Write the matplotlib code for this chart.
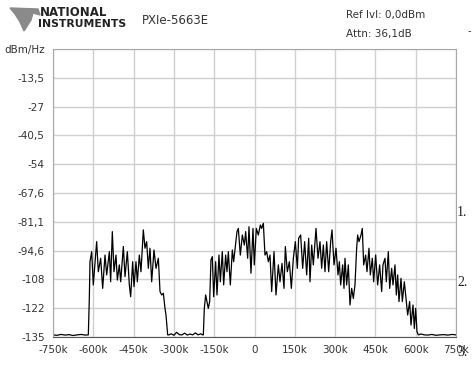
import matplotlib
matplotlib.use('Agg')

import numpy as np
import matplotlib.pyplot as plt
from matplotlib.patches import Polygon

# -------------------
# Spectrum trace (offset in kHz, level in dBm/Hz)
# -------------------
floor_left_f = [-750, -735, -720, -705, -690, -675, -660, -645, -630, -620]
floor_left_l = [-134.0, -134.2, -133.8, -134.1, -133.9, -134.3, -134.0, -133.8, -134.1, -134.0]

band1_f = [-618.5, -614.8, -612.3, -606.0, -600.0, -587.5, -581.3, -572.6, -565.1, -556.4,
           -550.2, -540.3, -535.4, -529.2, -523.0, -515.5, -510.5, -503.1, -498.1, -488.2,
           -482.0, -473.3, -465.9, -460.9, -453.5, -448.5, -441.1, -436.1, -428.7, -422.5,
           -413.8, -407.6, -401.4, -395.2, -389.0, -382.7, -374.1, -366.6, -357.9, -351.7,
           -345.5, -339.3, -333.1, -329.4, -323.2]
band1_l = [-134.0, -116.9, -99.7, -95.0, -110.6, -90.3, -104.4, -98.1, -112.2, -96.6,
           -105.9, -95.0, -109.1, -85.6, -104.4, -96.6, -108.3, -101.2, -109.1, -92.6,
           -106.7, -95.0, -110.6, -116.1, -99.7, -111.4, -99.7, -109.1, -96.6, -104.4,
           -84.8, -93.4, -90.3, -102.8, -93.4, -109.1, -94.2, -102.8, -98.1, -113.7,
           -115.3, -114.5, -121.6, -124.7, -134.0]

floor_mid_f = [-318, -310, -300, -290, -280, -270, -260, -250, -240, -230, -220, -210, -200, -193]
floor_mid_l = [-134.0, -133.5, -134.2, -132.8, -133.9, -134.0, -133.2, -134.1, -133.6, -134.0,
               -133.1, -134.0, -133.5, -134.0]

band2_f = [-190.5, -186.8, -181.8, -176.8, -171.9, -166.9, -162.0, -157.0, -152.0, -144.6,
           -139.6, -132.2, -127.2, -119.8, -114.8, -107.4, -102.4, -97.4, -90.0, -82.5,
           -77.6, -70.1, -65.2, -60.2, -52.8, -45.3, -37.9, -32.9, -25.5, -20.5,
           -13.1, -5.6, -0.7, 6.8, 14.2, 21.7, 26.6, 32.9, 39.0, 45.3,
           51.5, 57.7, 63.9, 72.6, 80.0, 88.7, 94.9, 102.4, 109.8, 114.8,
           122.2, 129.7, 137.1, 144.6, 152.0, 159.4, 164.4, 171.8, 179.3, 186.7,
           194.2, 201.6, 206.6, 212.8, 219.0, 228.9, 236.4, 243.8, 250.0, 256.2,
           262.4, 268.6, 276.1, 283.5, 288.5, 295.9, 303.4, 310.8, 315.8, 320.7,
           328.2, 333.1, 336.8, 343.0, 349.2, 355.4, 361.6, 367.8, 374.0, 380.2,
           384.0, 388.9, 396.4, 401.3, 406.3, 413.7, 418.7, 426.1, 431.1, 438.5,
           443.5, 451.0, 458.4, 465.8, 473.3, 478.2, 485.7, 490.6, 498.1, 503.1,
           510.5, 515.5, 522.9, 527.9, 532.8, 537.8, 545.3, 550.2, 557.7, 562.6,
           570.1, 577.5, 582.5, 589.9, 594.9, 599.8, 604.8, 609.8]
band2_l = [-134.0, -121.6, -115.3, -118.4, -121.6, -118.4, -98.9, -97.3, -116.1, -99.7,
           -115.3, -96.6, -109.1, -95.0, -110.6, -96.6, -104.4, -95.0, -110.6, -94.2,
           -99.7, -91.1, -85.6, -84.1, -96.6, -87.2, -91.9, -85.6, -98.1, -83.3,
           -105.1, -84.1, -101.2, -84.1, -87.2, -82.5, -84.1, -81.7, -96.6, -95.0,
           -99.7, -96.6, -113.7, -95.0, -115.3, -101.2, -109.1, -100.5, -112.2, -92.6,
           -104.4, -99.7, -112.2, -98.1, -90.3, -102.8, -88.7, -87.2, -102.8, -90.3,
           -105.9, -88.7, -109.1, -91.9, -101.2, -84.1, -98.1, -90.3, -102.8, -91.9,
           -104.4, -90.3, -104.4, -90.3, -84.8, -101.2, -93.4, -105.9, -99.7, -110.6,
           -101.2, -112.2, -98.1, -110.6, -101.2, -120.0, -112.2, -116.9, -110.6, -93.4,
           -87.2, -90.3, -87.2, -84.1, -101.2, -96.6, -104.4, -93.4, -105.9, -98.1,
           -109.1, -96.6, -110.6, -101.2, -113.7, -101.2, -98.1, -109.1, -95.0, -112.2,
           -102.8, -110.6, -101.2, -115.3, -105.9, -118.4, -107.5, -118.4, -109.1, -115.3,
           -124.7, -118.4, -129.4, -120.0, -131.0, -121.6, -132.5, -134.0]

floor_right_f = [620, 632, 645, 660, 675, 690, 705, 720, 735, 750]
floor_right_l = [-133.6, -134.0, -134.1, -133.8, -134.2, -134.0, -133.9, -134.1, -133.8, -134.0]

y_ticks = [0, -13.5, -27, -40.5, -54, -67.5, -81, -94.5, -108, -121.5, -135]
y_labels = ['dBm/Hz', '-13,5', '-27', '-40,5', '-54', '-67,6', '-81,1', '-94,6', '-108', '-122', '-135']
x_ticks = [-750, -600, -450, -300, -150, 0, 150, 300, 450, 600, 750]
x_labels = ['-750k', '-600k', '-450k', '-300k', '-150k', '0', '150k', '300k', '450k', '600k', '750k']

freq = np.concatenate([floor_left_f, band1_f, floor_mid_f, band2_f, floor_right_f])
level = np.concatenate([floor_left_l, band1_l, floor_mid_l, band2_l, floor_right_l])

# -------------------
# Figure laid out like the instrument screenshot
# -------------------
W, H = 476, 366
fig = plt.figure(figsize=(W / 100, H / 100), dpi=100)
ax = fig.add_axes([53 / W, 1 - 337 / H, (456 - 53) / W, (337 - 49) / H])

ax.plot(freq, level, '-', color='black', lw=0.9)

ax.set_xlim(-750, 750)
ax.set_ylim(-135, 0)
ax.set_xticks(x_ticks)
ax.set_xticklabels(x_labels)
ax.set_yticks(y_ticks)
ax.set_yticklabels(y_labels)
ax.tick_params(length=0, labelsize=7.5, colors='#333333', pad=6)
ax.grid(True, color='#cfcfcf', lw=1.0)
for s in ax.spines.values():
    s.set_color('#a8a8a8')
ax.spines['bottom'].set_color('#555555')

# header: logo + instrument info
logo = Polygon([(10, 8), (38, 9), (40, 15), (33, 13), (31, 20), (24, 31), (20, 22), (15, 14)],
               closed=True, color='#8a8a8a', transform=None)
logo.set_xy([(x, H - y) for x, y in logo.get_xy()])
fig.patches.append(logo)
fig.text(40 / W, 1 - 12 / H, 'NATIONAL', fontsize=8.5, fontweight='heavy', color='#222222', va='center')
fig.text(38 / W, 1 - 24 / H, 'INSTRUMENTS', fontsize=7.8, fontweight='heavy', color='#222222', va='center')
fig.text(142 / W, 1 - 21 / H, 'PXIe-5663E', fontsize=8.5, color='#333333', va='center')
fig.text(346 / W, 1 - 15 / H, 'Ref lvl: 0,0dBm', fontsize=7.5, color='#333333', va='center')
fig.text(346 / W, 1 - 34 / H, 'Attn: 36,1dB', fontsize=7.5, color='#333333', va='center')

# stray page marks from the scan
fig.text(468 / W, 1 - 31 / H, '-', fontsize=7, color='#333333', va='center')
for lbl, yp in [('1.', 212), ('2.', 282), ('3.', 352)]:
    fig.text(457 / W, 1 - yp / H, lbl, fontsize=10, family='Liberation Serif', color='#222222', va='center')

fig.savefig('out.png', dpi=100)
